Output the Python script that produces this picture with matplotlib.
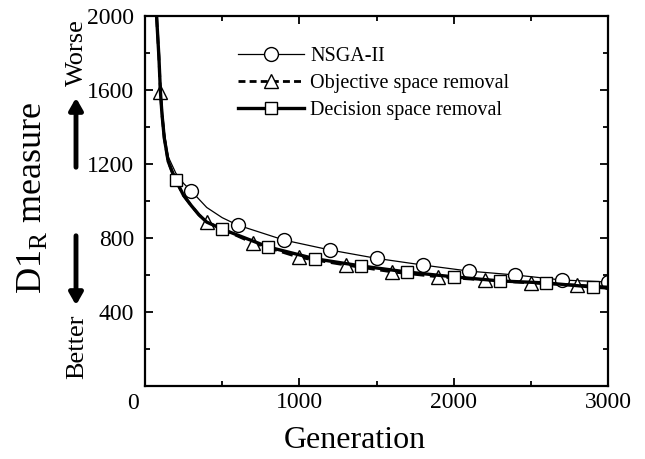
import matplotlib
matplotlib.use("Agg")
import matplotlib.pyplot as plt
import matplotlib.transforms as mtransforms
from matplotlib.lines import Line2D
from matplotlib.patches import FancyArrowPatch

plt.rcParams['font.family'] = ['Liberation Serif', 'DejaVu Serif']
plt.rcParams['mathtext.fontset'] = 'custom'
plt.rcParams['mathtext.rm'] = 'Liberation Serif'

# ---- data ----
labels = ['NSGA-II', 'Objective space removal', 'Decision space removal']

# curves (generation, D1R value)
nsga_gen = [75, 100, 125, 150, 200, 250, 300, 400, 500, 600, 900, 1200, 1500, 1800,
            2100, 2400, 2700, 3000]
nsga_val = [2000, 1610, 1370, 1240, 1150, 1095, 1054, 965, 910, 870, 789, 735, 690,
            654, 621, 600, 573, 562]

obj_gen = [75, 90, 100, 110, 125, 150, 175, 200, 250, 300, 350, 400, 700, 1000, 1300,
           1600, 1900, 2200, 2500, 2800, 3000]
obj_val = [2000, 1780, 1590, 1470, 1340, 1215, 1160, 1110, 1030, 975, 925, 886, 773,
           695, 654, 617, 590, 573, 557, 545, 535]

dec_gen = [75, 90, 100, 110, 125, 150, 175, 200, 250, 300, 350, 400, 500, 800, 1100,
           1400, 1700, 2000, 2300, 2600, 2900, 3000]
dec_val = [2000, 1780, 1590, 1470, 1340, 1215, 1160, 1113, 1030, 975, 925, 886, 848,
           751, 688, 649, 616, 590, 568, 557, 535, 530]

# marker generations
nsga_mark_gen = [300, 600, 900, 1200, 1500, 1800, 2100, 2400, 2700, 3000]
obj_mark_gen = [100, 400, 700, 1000, 1300, 1600, 1900, 2200, 2500, 2800]
dec_mark_gen = [200, 500, 800, 1100, 1400, 1700, 2000, 2300, 2600, 2900]

nsga_marks = [nsga_gen.index(g) for g in nsga_mark_gen]
obj_marks = [obj_gen.index(g) for g in obj_mark_gen]
dec_marks = [dec_gen.index(g) for g in dec_mark_gen]

fig = plt.figure(figsize=(6.45, 4.59), dpi=100)
ax = fig.add_axes([145 / 645, 73 / 459, 463 / 645, 370 / 459])

mk = dict(markerfacecolor='white', markeredgecolor='black', markeredgewidth=1.0)
ax.plot(nsga_gen, nsga_val, color='black', lw=0.9, marker='o', markersize=10,
        markevery=nsga_marks, **mk)
ax.plot(obj_gen, obj_val, color='black', lw=2.0, ls=(0, (4, 2)), marker='^',
        markersize=10, markevery=obj_marks, **mk)
ax.plot(dec_gen, dec_val, color='black', lw=2.4, marker='s', markersize=8.5,
        markevery=dec_marks, **mk)

ax.set_xlim(0, 3000)
ax.set_ylim(0, 2000)
ax.set_xticks([0, 1000, 2000, 3000])
ax.set_xticks([500, 1500, 2500], minor=True)
ax.set_yticks([0, 400, 800, 1200, 1600, 2000])
ax.set_yticklabels(['', '400', '800', '1200', '1600', '2000'])
ax.set_yticks([200, 600, 1000, 1400, 1800], minor=True)
ax.tick_params(which='both', direction='in', top=True, right=True, width=1.3,
               labelsize=17)
ax.tick_params(which='major', length=6)
ax.tick_params(which='minor', length=3.5)
ax.tick_params(axis='y', pad=8)
ax.tick_params(axis='x', pad=4)
for s in ax.spines.values():
    s.set_linewidth(1.6)

# shift the '0' label to the left, it doubles for both axes
shift = mtransforms.ScaledTranslation(-12 / 100, -1 / 100, fig.dpi_scale_trans)
lab0 = ax.get_xticklabels()[0]
lab0.set_transform(lab0.get_transform() + shift)

handles = [
    Line2D([], [], color='black', lw=0.9, marker='o', markersize=10, **mk),
    Line2D([], [], color='black', lw=2.0, ls=(0, (2.5, 1.5)), marker='^', markersize=10, **mk),
    Line2D([], [], color='black', lw=2.4, marker='s', markersize=8.5, **mk),
]
ax.legend(handles, labels, loc='upper left', bbox_to_anchor=(0.2, 0.916),
          frameon=False, fontsize=14.5, handlelength=3.3, handletextpad=0.3,
          labelspacing=0.4, borderpad=0, borderaxespad=0)

fig.text(355 / 645, 1 - 440 / 459, 'Generation', fontsize=23, ha='center', va='center')
fig.text(32 / 645, 1 - 198 / 459, r'D1$_\mathrm{R}$ measure', fontsize=26,
         rotation=90, ha='center', va='center')
fig.text(77 / 645, 1 - 53 / 459, 'Worse', fontsize=19, rotation=90, ha='center', va='center')
fig.text(77 / 645, 1 - 347 / 459, 'Better', fontsize=19, rotation=90, ha='center', va='center')

head = '-|>,head_width=0.4,head_length=0.7'
fig.add_artist(FancyArrowPatch(
    (76 / 645, 1 - 170 / 459), (76 / 645, 1 - 95 / 459), transform=fig.transFigure,
    arrowstyle=head, lw=3.5, color='black', mutation_scale=10))
fig.add_artist(FancyArrowPatch(
    (76 / 645, 1 - 233 / 459), (76 / 645, 1 - 308 / 459), transform=fig.transFigure,
    arrowstyle=head, lw=3.5, color='black', mutation_scale=10))

fig.savefig('out.png', dpi=100)
